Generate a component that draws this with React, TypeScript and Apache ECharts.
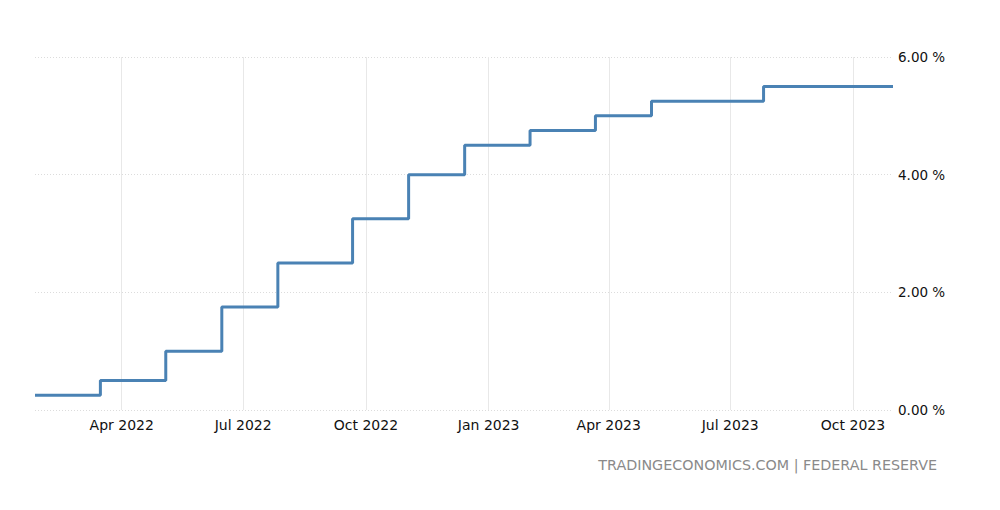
import React, { useEffect, useRef } from "react";
import * as echarts from "echarts";

const stepDates = [
  "2022-01-26", "2022-03-16", "2022-05-04", "2022-06-15", "2022-07-27",
  "2022-09-21", "2022-11-02", "2022-12-14", "2023-02-01", "2023-03-22",
  "2023-05-03", "2023-07-26", "2023-10-31",
];
const rateValues = [0.25, 0.5, 1.0, 1.75, 2.5, 3.25, 4.0, 4.5, 4.75, 5.0, 5.25, 5.5, 5.5];
const tickDates = ["2022-04-01", "2022-07-01", "2022-10-01", "2023-01-01", "2023-04-01", "2023-07-01", "2023-10-01"];
const tickLabels = ["Apr 2022", "Jul 2022", "Oct 2022", "Jan 2023", "Apr 2023", "Jul 2023", "Oct 2023"];
const yTicks = [0, 2, 4, 6];

const ts = (d: string) => Date.parse(d + "T00:00:00Z");

export default function App() {
  const ref = useRef<HTMLDivElement>(null);
  useEffect(() => {
    if (!ref.current) return;
    const chart = echarts.init(ref.current, undefined, { renderer: "svg" });
    const tickTs = tickDates.map(ts);
    const labelMap: Record<number, string> = {};
    tickTs.forEach((t, i) => (labelMap[t] = tickLabels[i]));
    chart.setOption({
      animation: false,
      textStyle: { fontFamily: "DejaVu Sans" },
      grid: { left: 35, right: 107, top: 57, bottom: 100 },
      xAxis: {
        type: "value",
        min: ts(stepDates[0]),
        max: ts(stepDates[stepDates.length - 1]),
        axisLine: { show: false },
        axisTick: { show: false, customValues: tickTs },
        axisLabel: {
          customValues: tickTs,
          formatter: (v: number) => labelMap[v] ?? "",
          color: "#111",
          fontSize: 14,
          margin: 8,
        },
        splitLine: {
          show: true,
          lineStyle: { color: "#e8e8e8", width: 1, type: "solid" },
        },
      },
      yAxis: {
        type: "value",
        position: "right",
        min: 0,
        max: 6,
        interval: 2,
        axisLine: { show: false },
        axisTick: { show: false },
        axisLabel: {
          formatter: (v: number) => (yTicks.includes(v) ? v.toFixed(2) + " %" : ""),
          color: "#111",
          fontSize: 13.5,
          margin: 5,
        },
        splitLine: {
          show: true,
          lineStyle: { color: "#dcdcdc", width: 1, type: [1, 2] },
        },
      },
      series: [
        {
          type: "line",
          step: "end",
          symbol: "none",
          data: stepDates.map((d, i) => [ts(d), rateValues[i]]),
          lineStyle: { color: "#4a82b4", width: 3 },
        },
      ],
      graphic: [
        {
          type: "text",
          right: 63,
          top: 458,
          style: {
            text: "TRADINGECONOMICS.COM | FEDERAL RESERVE",
            fill: "#8a8a8a",
            font: "14.3px 'DejaVu Sans'",
          },
        },
      ],
    });
    return () => chart.dispose();
  }, []);
  return <div ref={ref} style={{ width: 1000, height: 510, position: "absolute", left: 0, top: 0 }} />;
}
